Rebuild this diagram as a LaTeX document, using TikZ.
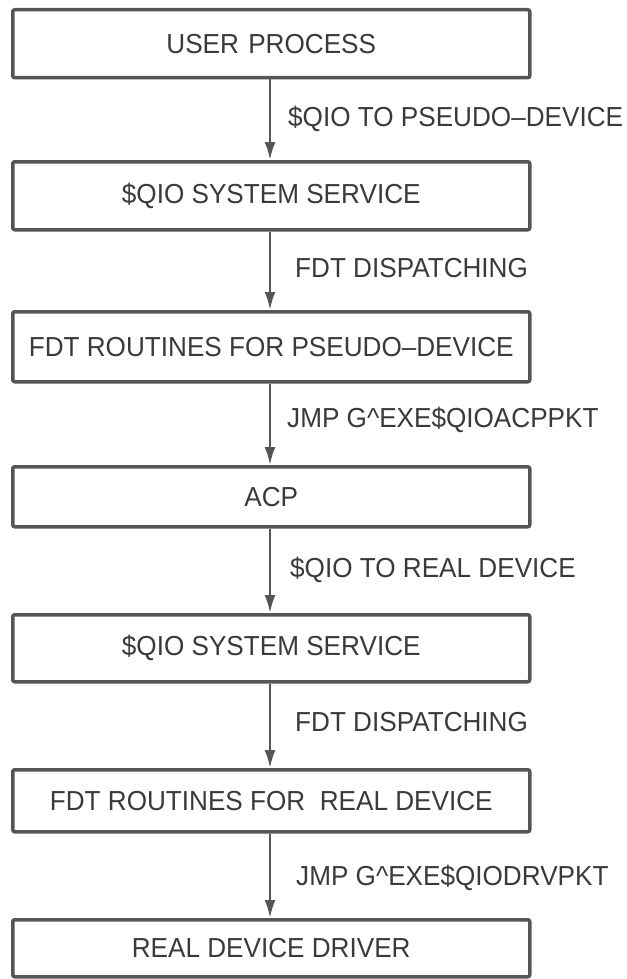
\documentclass[tikz,border=0pt]{standalone}
\usepackage{fontspec}
\setmainfont[FakeStretch=0.95]{Liberation Sans}
\usetikzlibrary{arrows.meta}
\definecolor{ink}{HTML}{555555}
\definecolor{txt}{HTML}{3A3A3A}
\tikzset{
  box/.style={draw=ink, line width=3.5pt, rounded corners=2pt, minimum width=517pt, anchor=north west, inner sep=0pt, text=txt, font=\fontsize{27.5}{27.5}\selectfont},
  flow/.style={draw=ink, line width=2.5pt, -{Latex[length=18pt,width=11pt]}},
  lab/.style={anchor=west, text=txt, inner sep=0pt, font=\fontsize{27.5}{27.5}\selectfont}
}
\begin{document}
\begin{tikzpicture}[x=1pt,y=-1pt]
\useasboundingbox (0,0) rectangle (626,979);
\node[box, minimum height=68pt] (b1) at (11,8) {USER\hspace{2pt} PROCESS};
\node[box, minimum height=68pt] (b2) at (11,160) {\$QIO SYSTEM SERVICE};
\node[box, minimum height=70pt] (b3) at (11,310) {FDT ROUTINES FOR PSEUDO--DEVICE\hspace{30pt}};
\node[box, minimum height=60pt] (b4) at (11,465) {ACP};
\node[box, minimum height=67pt] (b5) at (11,613) {\$QIO SYSTEM SERVICE};
\node[box, minimum height=62pt] (b6) at (11,768) {FDT ROUTINES FOR\ \ REAL DEVICE};
\node[box, minimum height=57pt] (b7) at (11,918) {REAL DEVICE DRIVER};
\coordinate (ax) at (270,0);
\draw[flow] (b1.south -| ax) -- (b2.north -| ax);
\draw[flow] (b2.south -| ax) -- (b3.north -| ax);
\draw[flow] (b3.south -| ax) -- (b4.north -| ax);
\draw[flow] (b4.south -| ax) -- (b5.north -| ax);
\draw[flow] (b5.south -| ax) -- (b6.north -| ax);
\draw[flow] (b6.south -| ax) -- (b7.north -| ax);
\node[lab] (l1) at (288,119) {\$QIO TO PSEUDO--DEVICE};
\node[lab] (l2) at (295,268) {FDT DISPATCHING};
\node[lab] (l3) at (287,420) {JMP G\^{}EXE\$QIOACPPKT};
\node[lab] (l4) at (290,570) {\$QIO TO REAL DEVICE};
\node[lab] (l5) at (295,722) {FDT DISPATCHING};
\node[lab] (l6) at (296,878) {JMP G\^{}EXE\$QIODRVPKT};
\end{tikzpicture}
\end{document}
